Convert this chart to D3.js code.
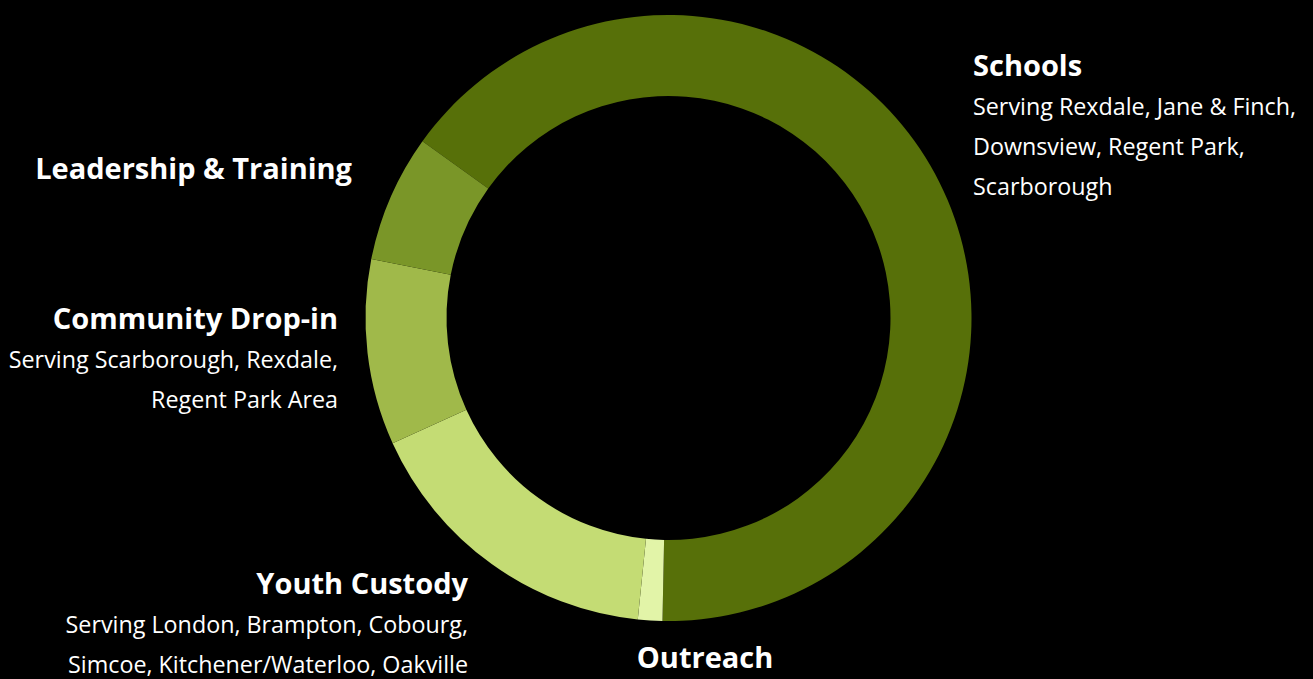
<!DOCTYPE html>
<head>
    <meta charset="utf-8">
    <style>
        body {
            margin: 0;
            background-color: #000;
            overflow: hidden;
        }
        text {
            font-family: "Open Sans", sans-serif;
            fill: #fff;
        }
        .title { font-weight: 700; font-size: 29px; }
        .sub { font-size: 23.3px; }
    </style>
</head>
<body>
    <div id="chart-area"></div>
    <script src="https://cdn.jsdelivr.net/npm/d3@7"></script>
    <script>
        // program share (clockwise from Schools)
        var programs = ["Schools", "Outreach", "Youth Custody", "Community Drop-in", "Leadership & Training"]
        var shares = [65.4, 1.3, 16.6, 9.9, 6.8]
        var colors = ["#577009", "#e2f4a8", "#c4dc74", "#a0b94a", "#7a9628"]
        var subtitles = [
            ["Serving Rexdale, Jane & Finch,", "Downsview, Regent Park,", "Scarborough"],
            [],
            ["Serving London, Brampton, Cobourg,", "Simcoe, Kitchener/Waterloo, Oakville"],
            ["Serving Scarborough, Rexdale,", "Regent Park Area"],
            []
        ]

        var width = 1313, height = 679
        var cx = 668.5, cy = 318
        var outer = 303, inner = 222

        var svg = d3.select("#chart-area").append("svg")
            .attr("width", width)
            .attr("height", height)

        var start = -54.3 * Math.PI / 180
        var pie = d3.pie().sort(null).value(d => d)
            .startAngle(start).endAngle(start + 2 * Math.PI)
        var arc = d3.arc().innerRadius(inner).outerRadius(outer)

        var ring = svg.append("g").attr("transform", `translate(${cx},${cy})`)
        ring.selectAll("path")
            .data(pie(shares))
            .join("path")
            .attr("d", arc)
            .attr("fill", (d, i) => colors[i])

        // label blocks: anchor x, title baseline, alignment
        var labelPos = [
            { x: 973, y: 76, anchor: "start" },
            { x: 705, y: 668, anchor: "middle" },
            { x: 468, y: 594, anchor: "end" },
            { x: 338, y: 329, anchor: "end" },
            { x: 352, y: 179, anchor: "end" }
        ]

        var labels = svg.selectAll("g.label")
            .data(programs)
            .join("g")
            .attr("class", "label")
            .attr("transform", (d, i) => `translate(${labelPos[i].x},${labelPos[i].y})`)
            .attr("text-anchor", (d, i) => labelPos[i].anchor)

        labels.append("text")
            .attr("class", "title")
            .text(d => d)

        labels.each(function (d, i) {
            d3.select(this).selectAll("text.sub")
                .data(subtitles[i])
                .join("text")
                .attr("class", "sub")
                .attr("y", (s, j) => 39 + j * 40)
                .text(s => s)
        })
    </script>
</body>
